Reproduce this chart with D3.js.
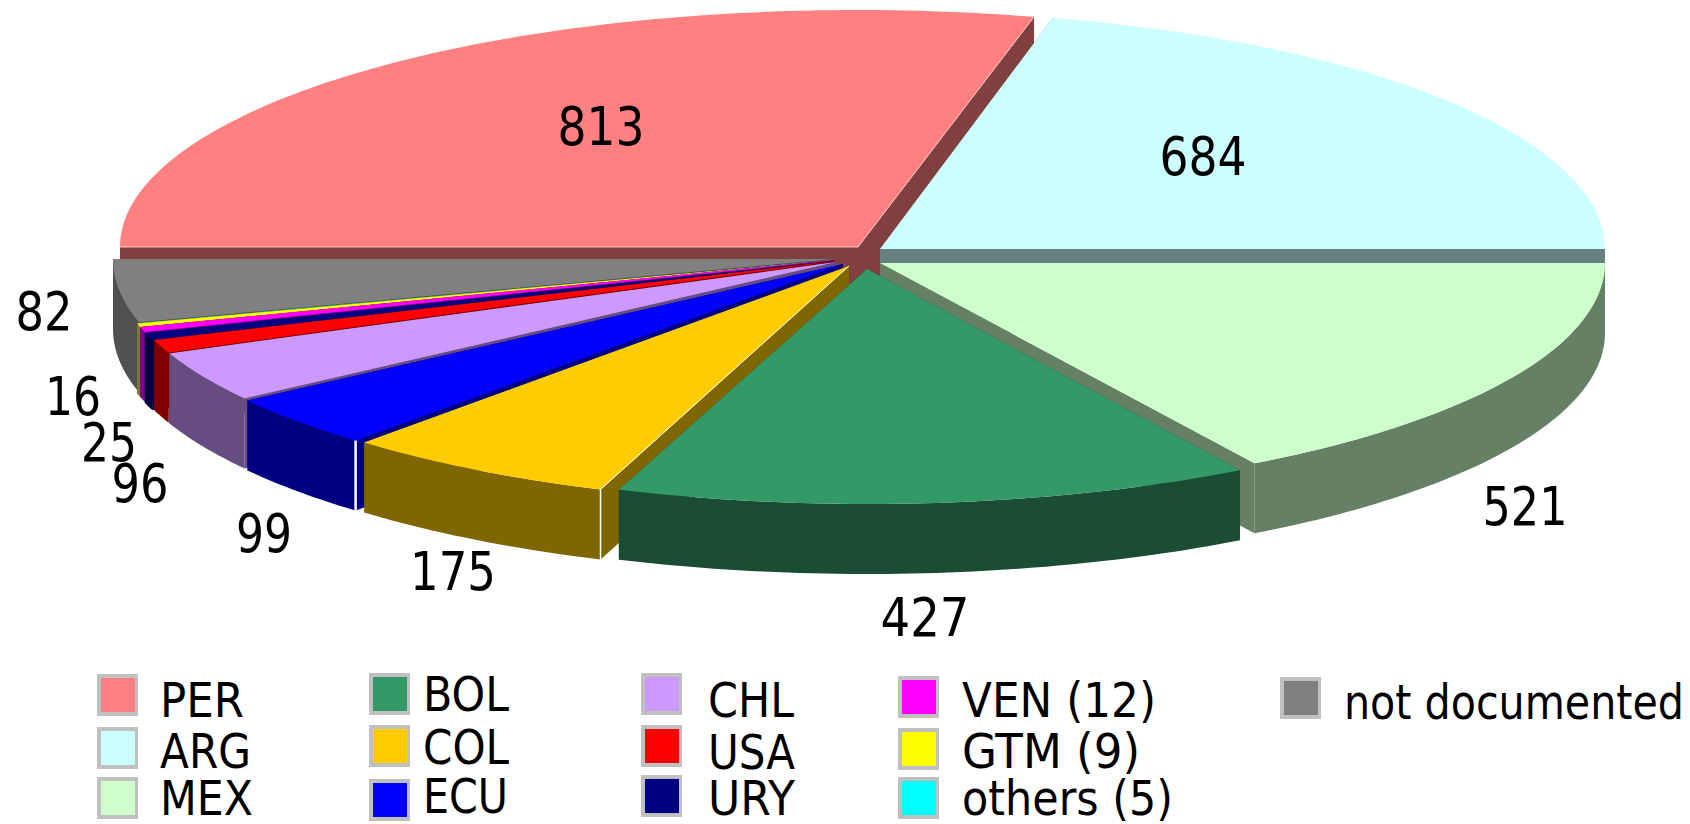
<!DOCTYPE html>
<html><head><meta charset="utf-8">
<script src="https://cdn.jsdelivr.net/npm/d3@7/dist/d3.min.js"></script>
<style>html,body{margin:0;background:#fff}svg{display:block}text{font-family:"DejaVu Sans",Verdana,sans-serif;fill:#000}</style>
</head><body><div id="c"></div>
<script>
// ---- data ----
const categories = ["PER","ARG","MEX","BOL","COL","ECU","CHL","USA","URY","VEN","GTM","others","not documented"];
const values     = [813,684,521,427,175,99,96,25,16,12,9,5,82];
const legendText = ["PER","ARG","MEX","BOL","COL","ECU","CHL","USA","URY","VEN (12)","GTM (9)","others (5)","not documented"];
const colors     = ["#ff8080","#ccffff","#ccffcc","#339966","#ffcc00","#0000ff","#cc99ff","#ff0000","#000080","#ff00ff","#ffff00","#00ffff","#808080"];
const sideColors = ["#804040","#667f7f","#668066","#1a4d33","#806600","#000080","#664c80","#800000","#000040","#800080","#808000","#008080","#505050"];
// ---- layout ----
const W=1690,H=824,RX=727,RY=238,DEPTH=70;
const drawnBounds=[-90,13.8,90,148.9,200.1,222.1,235,247.4,250.6,252.4,253.65,254.5,254.6,270];
const centers=[[858,247,738,237],[880,249,725,238],[880,263,725,234],[867,269,722,235],[849,266,723,RY],[843,264,RX,RY],[836,262,722,RY],[835,261,722,RY],[835,261,724,RY],[835,260,724,RY],[835,260,724,RY],[835,260,724,RY],[834,259,721,RY]];
const labelPos=[[601,145],[1203,175],[1525,525],[925,636],[453,590],[264,552],[140,502],[109,461],[73,415],null,null,null,[44,330]];
const labelWidths=[87,87,85,89,86,56,57,56,56,0,0,0,57];
const legendPos=[[97,674,160,717],[97,727,160,768],[97,777,160,815],[369,673,423,711],[369,725,423,764],[369,779,423,813],[641,673,708,717],[641,725,708,769],[641,775,708,815],[898,676,962,717],[898,728,962,768],[898,777,962,815],[1280,677,1344,719]];
const legendWidths=[84,91,93,86,86,85,86,87,87,194,178,211,340];
// ---- chart ----
const svg=d3.select("#c").append("svg").attr("width",W).attr("height",H).attr("viewBox",`0 0 ${W} ${H}`);
const toDeg=r=>r*180/Math.PI, toRad=d=>d*Math.PI/180;
const pie=d3.pie().sort(null).startAngle(toRad(-90)).endAngle(toRad(270));
const arcs=pie(values);
const dataBounds=[toDeg(arcs[0].startAngle),...arcs.map(a=>toDeg(a.endAngle))];
const view=d3.scaleLinear().domain(dataBounds).range(drawnBounds); // oblique-view correction of the angles
const line=d3.line();
const rim=(i,deg)=>{const [cx,cy,rx,ry]=centers[i],t=toRad(deg);return [cx+rx*Math.sin(t),cy-ry*Math.cos(t)];};
const down=p=>[p[0],p[1]+DEPTH];
function rimPts(i,a0,a1){const n=Math.max(2,Math.ceil(Math.abs(a1-a0)));return d3.range(n+1).map(k=>rim(i,a0+(a1-a0)*k/n));}
const paintOrder=[0,1,2,12,11,10,9,8,7,6,5,4,3];
const g=svg.append("g");
paintOrder.forEach(i=>{
  const a=arcs[i],a0=view(toDeg(a.startAngle)),a1=view(toDeg(a.endAngle));
  const c=[centers[i][0],centers[i][1]],s=sideColors[i],p0=rim(i,a0),p1=rim(i,a1);
  [p0,p1].forEach(p=>g.append("path").attr("d",line([c,p,down(p),down(c)])+"Z").attr("fill",s));
  const f0=Math.max(a0,90),f1=Math.min(a1,270);
  if(f1>f0){const top=rimPts(i,f0,f1);g.append("path").attr("d",line([...top,...top.slice().reverse().map(down)])+"Z").attr("fill",s);}
  g.append("path").attr("d",line([c,...rimPts(i,a0,a1)])+"Z").attr("fill",colors[i]);
  if(i===0) [p0,p1].forEach(p=>g.append("path").attr("d",line([c,p])).attr("stroke","#ffc4c4").attr("stroke-width",1).attr("fill","none"));
  if(i===4||i===5){
    g.append("path").attr("d",line([p0,down(p0)])).attr("stroke","#fff").attr("stroke-width",i===5?2.5:1.5).attr("fill","none");
    if(i===4) g.append("path").attr("d",line([c,p0])).attr("stroke","#fff").attr("stroke-width",1).attr("fill","none");
  }
});
// value labels
const lab=svg.append("g");
values.forEach((v,i)=>{ if(!labelPos[i])return;
  lab.append("text").attr("x",labelPos[i][0]).attr("y",labelPos[i][1]).attr("text-anchor","middle")
    .attr("font-size",54).attr("textLength",labelWidths[i]).attr("lengthAdjust","spacingAndGlyphs").text(v);
});
// legend
const leg=svg.append("g");
categories.forEach((c,i)=>{const [sx,sy,tx,ty]=legendPos[i];
  leg.append("rect").attr("x",sx).attr("y",sy).attr("width",41).attr("height",42).attr("fill","#c0c0c0");
  leg.append("rect").attr("x",sx+4).attr("y",sy+4).attr("width",34).attr("height",34).attr("fill",colors[i]);
  leg.append("text").attr("x",tx).attr("y",ty).attr("font-size",48).attr("textLength",legendWidths[i]).attr("lengthAdjust","spacingAndGlyphs").text(legendText[i]);
});
</script></body></html>
